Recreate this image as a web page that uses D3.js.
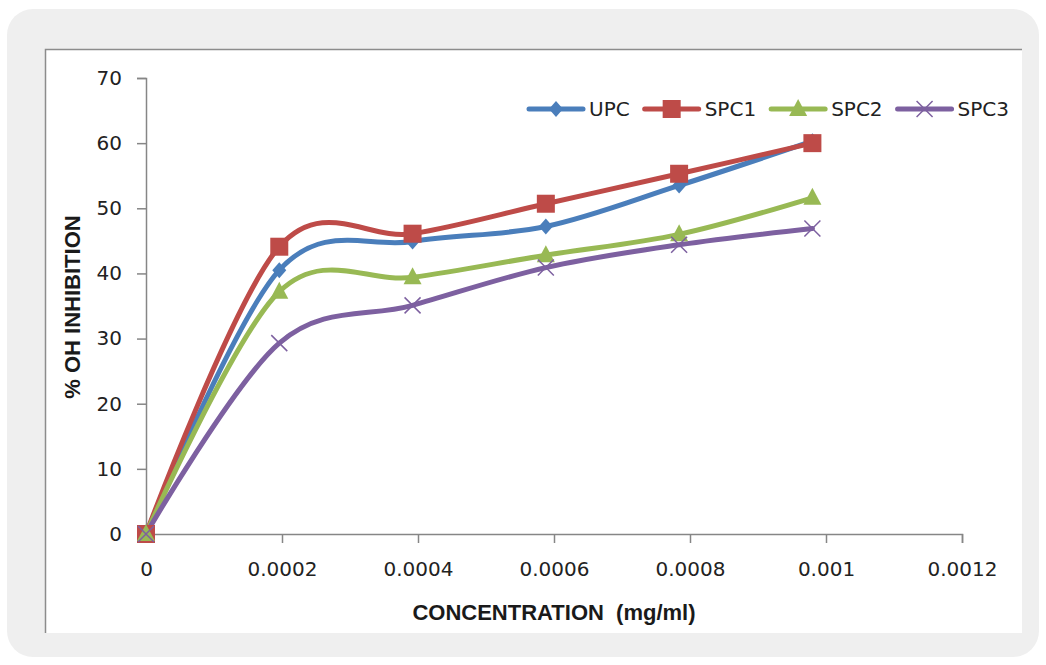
<!DOCTYPE html>
<html>
<head>
<script src="https://d3js.org/d3.v7.min.js"></script>
<style>
body {margin: 0; background: white;}
svg {display: block;}
.tick text {font-family: "DejaVu Sans"; font-size: 20px; fill: #222;}
</style>
</head>
<body>
<svg width="1046" height="665"></svg>
<script>
// concentrations (mg/ml)
var conc = [0, 0.000196, 0.000392, 0.000588, 0.000784, 0.00098];
var seriesNames = ["UPC", "SPC1", "SPC2", "SPC3"];
var upc  = [0, 40.5, 44.9, 47.2, 53.5, 60.3];
var spc1 = [0, 44.1, 46.1, 50.7, 55.3, 60.0];
var spc2 = [0, 37.2, 39.4, 42.8, 46.0, 51.6];
var spc3 = [0, 29.3, 35.1, 40.9, 44.4, 46.9];
var xTicks = [0, 0.0002, 0.0004, 0.0006, 0.0008, 0.001, 0.0012];
var yTicks = [0, 10, 20, 30, 40, 50, 60, 70];

var colors = ["#4a7ebb", "#be4b48", "#98b954", "#7d60a0"];
var markers = ["diamond", "square", "triangle", "cross"];
var values = [upc, spc1, spc2, spc3];

var svg = d3.select("svg");

// background card
svg.append("rect").attr("x", 7).attr("y", 9).attr("width", 1032).attr("height", 648)
  .attr("rx", 26).attr("fill", "#efefef");
svg.append("rect").attr("x", 45).attr("y", 49).attr("width", 977).attr("height", 584)
  .attr("fill", "white");
svg.append("path").attr("d", "M45.5,633V49.5H1022").attr("fill", "none")
  .attr("stroke", "#8c8c8c").attr("stroke-width", 1.5);

var x = d3.scaleLinear().domain([0, 0.0012]).range([146, 962]);
var y = d3.scaleLinear().domain([0, 70]).range([534, 78]);

// axes
var xAxis = svg.append("g").attr("transform", "translate(0,534)")
  .call(d3.axisBottom(x).tickValues(xTicks).tickSize(9).tickPadding(19)
    .tickFormat(function(d) { return d === 0 ? "0" : String(+d.toFixed(4)); }));
var yAxis = svg.append("g").attr("transform", "translate(146,0)")
  .call(d3.axisLeft(y).tickValues(yTicks).tickSize(9).tickPadding(15));
[xAxis, yAxis].forEach(function(a) {
  a.select(".domain").attr("stroke", "#868686").attr("stroke-width", 1.5);
  a.selectAll(".tick line").attr("stroke", "#868686").attr("stroke-width", 1.5);
});
xAxis.selectAll(".tick text").attr("dy", "0.71em");

// axis titles
svg.append("text").attr("x", 554).attr("y", 620)
  .attr("text-anchor", "middle")
  .style("font-family", "Liberation Sans").style("font-weight", "bold")
  .style("font-size", "22px").attr("fill", "#1a1a1a")
  .text("CONCENTRATION  (mg/ml)").attr("xml:space", "preserve");
svg.append("text").attr("transform", "translate(80,307) rotate(-90)")
  .attr("text-anchor", "middle")
  .style("font-family", "Liberation Sans").style("font-weight", "bold")
  .style("font-size", "22px").attr("fill", "#1a1a1a")
  .text("% OH INHIBITION");

function drawMarker(g, type, color, cx, cy) {
  if (type === "diamond") {
    g.append("path").attr("d", "M" + cx + "," + (cy - 8) + "L" + (cx + 7) + "," + cy +
      "L" + cx + "," + (cy + 8) + "L" + (cx - 7) + "," + cy + "Z").attr("fill", color);
  } else if (type === "square") {
    g.append("rect").attr("x", cx - 9).attr("y", cy - 9).attr("width", 18).attr("height", 18)
      .attr("fill", color);
  } else if (type === "triangle") {
    g.append("path").attr("d", "M" + cx + "," + (cy - 10) + "L" + (cx + 9) + "," + (cy + 7) +
      "L" + (cx - 9) + "," + (cy + 7) + "Z").attr("fill", color);
  } else {
    g.append("path").attr("d", "M" + (cx - 8) + "," + (cy - 8) + "L" + (cx + 8) + "," + (cy + 8) +
      "M" + (cx + 8) + "," + (cy - 8) + "L" + (cx - 8) + "," + (cy + 8))
      .attr("stroke", color).attr("stroke-width", 1.5).attr("fill", "none");
  }
}

var line = d3.line()
  .x(function(d, i) { return x(conc[i]); })
  .y(function(d) { return y(d); })
  .curve(d3.curveCardinal.tension(0));

var plot = svg.append("g");
values.forEach(function(vals, s) {
  plot.append("path").datum(vals).attr("d", line)
    .attr("fill", "none").attr("stroke", colors[s]).attr("stroke-width", 5)
    .attr("stroke-linecap", "round");
});
values.forEach(function(vals, s) {
  vals.forEach(function(v, i) { drawMarker(plot, markers[s], colors[s], x(conc[i]), y(v)); });
});

// legend
var lx = 529;
var legend = svg.append("g");
seriesNames.forEach(function(name, s) {
  legend.append("line").attr("x1", lx).attr("x2", lx + 54).attr("y1", 109).attr("y2", 109)
    .attr("stroke", colors[s]).attr("stroke-width", 5).attr("stroke-linecap", "round");
  drawMarker(legend, markers[s], colors[s], lx + 27, 109);
  var t = legend.append("text").attr("x", lx + 60).attr("y", 116)
    .style("font-family", "DejaVu Sans").style("font-size", "20px").attr("fill", "#222")
    .text(name);
  lx = lx + 60 + t.node().getComputedTextLength() + 15;
});
</script>
</body>
</html>
